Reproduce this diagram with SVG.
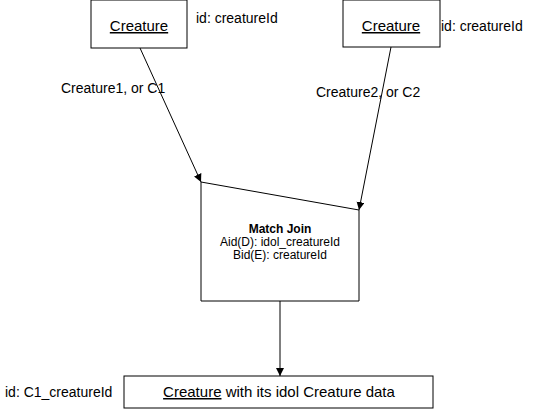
<svg xmlns="http://www.w3.org/2000/svg" width="541" height="409" viewBox="0 0 541 409">
<style>
text{font-family:"Liberation Sans",Arial,sans-serif;fill:#000}
.box{fill:#fff;stroke:#000;stroke-width:1}
.t15{font-size:15px}
.t14{font-size:14px}
.t12{font-size:12px}
.edge{stroke:#000;stroke-width:1;fill:none;marker-end:url(#ah)}
</style>
<defs>
<marker id="ah" markerWidth="10" markerHeight="10" refX="8" refY="4" orient="auto" markerUnits="userSpaceOnUse">
<path d="M0,0 L8,4 L0,8 Z" fill="#000"/>
</marker>
</defs>
<rect width="541" height="409" fill="#fff"/>
<g id="connectors">
<line class="edge" x1="140" y1="48" x2="201" y2="182"/>
<line class="edge" x1="391" y1="47" x2="359" y2="210"/>
<line class="edge" x1="280" y1="301" x2="280" y2="376"/>
<text class="t14" x="61" y="93">Creature1, or C1</text>
<text class="t14" x="316" y="97">Creature2, or C2</text>
</g>
<g id="creature1">
<rect class="box" x="91" y="0" width="96" height="48"/>
<text class="t15" x="139" y="31" text-anchor="middle" text-decoration="underline">Creature</text>
<text class="t14" x="196" y="23">id: creatureId</text>
</g>
<g id="creature2">
<rect class="box" x="343" y="0" width="97" height="47"/>
<text class="t15" x="391" y="31" text-anchor="middle" text-decoration="underline">Creature</text>
<text class="t14" x="441" y="31">id: creatureId</text>
</g>
<g id="matchjoin">
<path class="box" d="M201,182 L359,210 L359,301 L201,301 Z"/>
<text class="t12" x="280" y="233" text-anchor="middle" font-weight="bold">Match Join</text>
<text class="t12" x="280" y="246" text-anchor="middle">Aid(D): idol_creatureId</text>
<text class="t12" x="280" y="259" text-anchor="middle">Bid(E): creatureId</text>
</g>
<g id="result">
<rect class="box" x="124" y="376" width="309" height="32"/>
<text class="t15" x="279" y="397" text-anchor="middle"><tspan text-decoration="underline">Creature</tspan> with its idol Creature data</text>
<text class="t14" x="5" y="397">id: C1_creatureId</text>
</g>
</svg>
